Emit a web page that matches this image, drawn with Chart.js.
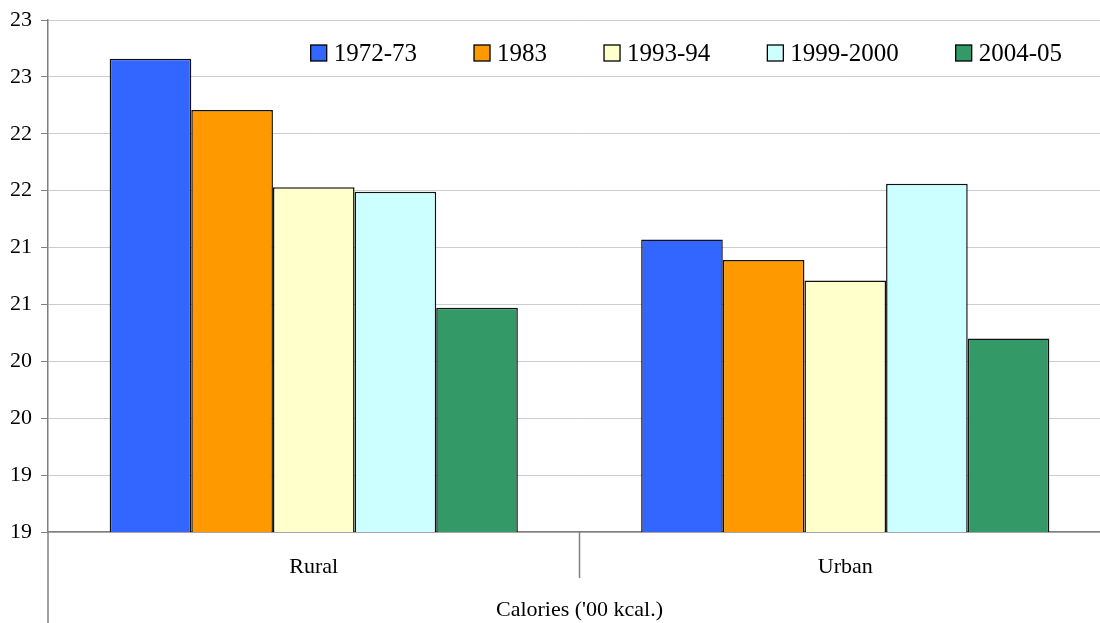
<!DOCTYPE html>
<html>
<head>
<meta charset="utf-8">
<script src="https://cdn.jsdelivr.net/npm/chart.js@4/dist/chart.umd.min.js"></script>
<style>
  html, body { margin: 0; padding: 0; background: #fff; overflow: hidden; }
  /* the plot runs a little past the right edge of the window, as in the original */
  #wrap { width: 1111px; height: 623px; }
</style>
</head>
<body>
<div id="wrap"><canvas id="calChart"></canvas></div>
<script>
// Calorie intake per day ('00 kcal)
const categories = ['Rural', 'Urban'];
const rounds = ['1972-73', '1983', '1993-94', '1999-2000', '2004-05'];
const values1972 = [22.66, 21.07];
const values1983 = [22.21, 20.89];
const values1993 = [21.53, 20.71];
const values1999 = [21.49, 21.56];
const values2004 = [20.47, 20.20];
const colours = ['#3366FF', '#FF9900', '#FFFFCC', '#CCFFFF', '#339966'];

const FONT = '"Liberation Serif", "Times New Roman", serif';

// y axis line runs on below the plot, plus separators between categories
const axisExtras = {
  id: 'axisExtras',
  afterDraw(chart) {
    const { ctx, chartArea } = chart;
    const x = chart.scales.x;
    ctx.save();
    ctx.strokeStyle = '#808080';
    ctx.lineWidth = 1.5;
    ctx.beginPath();
    ctx.moveTo(chartArea.left, chartArea.bottom);
    ctx.lineTo(chartArea.left, chart.height);
    for (let i = 0; i < categories.length - 1; i++) {
      const px = (x.getPixelForValue(i) + x.getPixelForValue(i + 1)) / 2;
      ctx.moveTo(px, chartArea.bottom);
      ctx.lineTo(px, chartArea.bottom + 46);
    }
    ctx.stroke();
    ctx.restore();
  }
};

// legend drawn inside the plot area, right aligned
const insideLegend = {
  id: 'insideLegend',
  afterDatasetsDraw(chart) {
    const { ctx, chartArea } = chart;
    const box = 16, gapText = 7, gapItem = 57;
    ctx.save();
    ctx.font = '25px ' + FONT;
    ctx.textBaseline = 'middle';
    const sets = chart.data.datasets;
    let total = 0;
    sets.forEach((ds, i) => {
      total += box + gapText + ctx.measureText(ds.label).width;
      if (i < sets.length - 1) total += gapItem;
    });
    let cx = chartArea.right - 49 - total;
    const cy = chartArea.top + 33;
    sets.forEach(ds => {
      ctx.fillStyle = ds.backgroundColor;
      ctx.fillRect(cx, cy - box / 2, box, box);
      ctx.strokeStyle = '#000';
      ctx.lineWidth = 1.3;
      ctx.strokeRect(cx, cy - box / 2, box, box);
      cx += box + gapText;
      ctx.fillStyle = '#000';
      ctx.fillText(ds.label, cx, cy + 1);
      cx += ctx.measureText(ds.label).width + gapItem;
    });
    ctx.restore();
  }
};

const seriesValues = [values1972, values1983, values1993, values1999, values2004];

new Chart(document.getElementById('calChart'), {
  type: 'bar',
  data: {
    labels: categories,
    datasets: rounds.map((r, i) => ({
      label: r,
      data: seriesValues[i],
      backgroundColor: colours[i],
      borderColor: '#111',
      borderWidth: 1.5,
      categoryPercentage: 0.768,
      barPercentage: 1.0
    }))
  },
  options: {
    responsive: true,
    maintainAspectRatio: false,
    animation: false,
    layout: { padding: { top: 19, right: 0, left: 0, bottom: 0 } },
    plugins: {
      legend: { display: false },
      tooltip: { enabled: false }
    },
    scales: {
      x: {
        grid: { display: false },
        border: { display: true, color: '#808080', width: 1.5 },
        ticks: { color: '#000', font: { family: FONT, size: 22 }, padding: 14 },
        title: {
          display: true,
          text: "Calories ('00 kcal.)",
          color: '#000',
          font: { family: FONT, size: 22 },
          padding: { top: 0, bottom: 0 }
        },
        afterFit(scale) { scale.height = 91; }
      },
      y: {
        min: 18.5,
        max: 23,
        grid: { color: '#cccccc', lineWidth: 1, tickLength: 7, tickColor: '#808080' },
        border: { display: true, color: '#808080', width: 1.5 },
        ticks: {
          stepSize: 0.5,
          color: '#000',
          padding: 9,
          font: { family: FONT, size: 22, lineHeight: 1 },
          callback: v => Math.round(v)
        },
        afterFit(scale) { scale.width = 48; }
      }
    }
  },
  plugins: [axisExtras, insideLegend]
});
</script>
</body>
</html>
